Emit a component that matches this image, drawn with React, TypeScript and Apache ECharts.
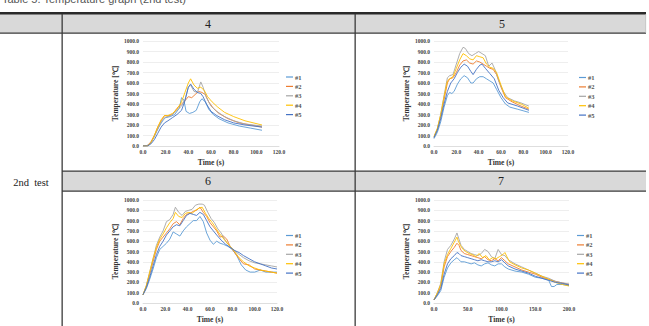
import React, { useEffect, useRef } from "react";
import * as echarts from "echarts";

// Sensor channels and their line colours
const SENSORS = ["#1", "#2", "#3", "#4", "#5"];
const SENSOR_COLORS = ["#5B9BD5", "#ED7D31", "#A5A5A5", "#FFC000", "#4472C4"];
const TEST_LABELS = ["4", "5", "6", "7"];
const ROW_LABEL = "2nd  test";
const TITLE = "Table 5. Temperature graph (2nd test)";

type Pt = [number, number];

// Test 4: [time (s), temperature (°C)]
const t4s1: Pt[] = [[0,0],[3,2],[6,20],[9,70],[12,140],[15,200],[18,250],[20,270],[24,280],[28,300],[32,360],[34,460],[36,440],[38,330],[41,310],[44,320],[47,340],[50,420],[52,450],[55,420],[58,350],[62,300],[67,260],[75,220],[85,190],[95,170],[105,150]];
const t4s2: Pt[] = [[0,0],[4,5],[7,40],[10,100],[13,180],[16,240],[19,290],[22,285],[26,300],[30,360],[34,400],[37,430],[40,470],[43,460],[46,490],[49,520],[52,510],[55,490],[58,420],[62,360],[67,310],[75,260],[85,220],[95,200],[105,180]];
const t4s3: Pt[] = [[0,0],[4,0],[7,30],[10,90],[13,160],[16,230],[19,270],[22,280],[26,300],[30,340],[34,380],[37,440],[40,560],[42,580],[45,520],[48,510],[51,610],[53,560],[56,460],[60,380],[65,330],[72,280],[80,240],[90,210],[105,190]];
const t4s4: Pt[] = [[0,0],[4,0],[7,30],[10,100],[13,180],[16,250],[19,290],[22,290],[26,310],[30,350],[34,420],[37,510],[40,600],[42,640],[45,580],[48,550],[51,560],[54,530],[57,470],[61,420],[66,370],[72,320],[80,280],[90,240],[105,200]];
const t4s5: Pt[] = [[0,0],[4,0],[7,20],[10,60],[13,120],[16,180],[19,220],[22,240],[26,270],[30,300],[34,340],[37,430],[40,560],[42,590],[45,540],[48,510],[51,500],[53,470],[56,400],[60,330],[65,290],[72,250],[80,220],[90,200],[105,180]];

// Test 5
const t5s1: Pt[] = [[0,70],[3,130],[6,230],[9,370],[12,480],[14,510],[16,500],[18,520],[21,590],[24,640],[27,670],[30,650],[33,600],[35,600],[38,640],[41,660],[44,660],[47,640],[50,620],[53,600],[56,540],[60,460],[64,400],[68,370],[75,350],[85,320]];
const t5s2: Pt[] = [[0,90],[3,160],[6,280],[9,440],[12,600],[14,640],[17,650],[20,700],[23,770],[26,810],[29,820],[32,790],[35,780],[38,810],[41,800],[44,780],[47,760],[50,740],[53,730],[56,680],[60,560],[64,460],[70,420],[78,380],[85,350]];
const t5s3: Pt[] = [[0,80],[3,160],[6,300],[9,480],[12,650],[14,670],[17,680],[20,780],[23,880],[26,940],[28,930],[31,880],[34,860],[37,880],[40,900],[43,880],[46,860],[49,760],[52,790],[55,720],[58,620],[62,520],[66,460],[72,430],[78,410],[85,380]];
const t5s4: Pt[] = [[0,90],[3,170],[6,300],[9,470],[12,620],[14,640],[17,660],[20,740],[23,820],[26,880],[29,860],[32,830],[35,820],[38,860],[41,850],[44,840],[47,780],[50,750],[53,740],[56,700],[60,580],[64,470],[70,430],[78,400],[85,360]];
const t5s5: Pt[] = [[0,80],[3,150],[6,260],[9,400],[12,520],[15,600],[18,640],[21,700],[24,750],[27,780],[30,760],[33,710],[35,680],[38,730],[41,770],[43,780],[46,740],[50,690],[54,640],[58,530],[62,460],[66,410],[75,380],[85,340]];

// Test 6
const t6s1: Pt[] = [[0,80],[3,140],[6,230],[9,330],[12,440],[15,520],[18,550],[21,580],[24,620],[27,690],[30,670],[33,650],[36,700],[39,740],[42,770],[45,800],[48,800],[51,840],[54,790],[57,680],[60,610],[63,570],[66,600],[69,580],[72,570],[76,550],[80,520],[84,460],[88,370],[92,320],[96,300],[100,300],[105,320],[110,300],[115,300],[120,300]];
const t6s2: Pt[] = [[0,80],[3,160],[6,280],[9,400],[12,520],[15,600],[18,640],[21,680],[24,720],[27,770],[30,790],[33,760],[36,820],[39,860],[42,870],[45,890],[48,900],[51,930],[54,880],[57,840],[60,780],[63,740],[66,700],[69,640],[72,650],[75,620],[78,550],[82,490],[86,430],[90,380],[95,370],[100,330],[105,320],[110,310],[115,300],[120,290]];
const t6s3: Pt[] = [[0,80],[3,170],[6,300],[9,430],[12,560],[15,640],[18,700],[21,790],[24,810],[27,860],[29,930],[32,880],[35,850],[38,890],[41,900],[44,910],[47,950],[50,960],[53,960],[55,950],[58,880],[61,820],[64,780],[67,720],[70,680],[73,620],[76,570],[80,530],[85,480],[90,440],[95,410],[100,390],[105,380],[110,370],[115,360],[120,350]];
const t6s4: Pt[] = [[0,80],[3,170],[6,300],[9,430],[12,540],[15,620],[18,670],[21,730],[24,780],[27,820],[29,880],[32,840],[35,830],[38,870],[41,880],[44,870],[47,900],[50,920],[53,930],[56,870],[59,820],[62,780],[65,730],[68,680],[71,640],[74,600],[78,550],[82,500],[86,440],[90,400],[95,360],[100,340],[105,320],[110,310],[115,300],[120,290]];
const t6s5: Pt[] = [[0,80],[3,150],[6,250],[9,360],[12,470],[15,550],[18,600],[21,660],[24,700],[27,740],[30,760],[33,750],[36,800],[39,850],[42,870],[45,860],[48,850],[51,880],[54,860],[57,800],[60,740],[63,700],[66,660],[70,610],[74,570],[78,540],[82,510],[86,490],[90,460],[95,430],[100,400],[105,380],[110,360],[115,340],[120,330]];

// Test 7
const t7s1: Pt[] = [[0,30],[5,70],[10,120],[15,250],[20,340],[25,390],[30,420],[34,440],[37,420],[40,400],[45,400],[50,390],[55,380],[60,390],[65,370],[70,360],[75,380],[80,390],[85,370],[90,360],[95,380],[100,380],[105,350],[110,330],[120,310],[130,300],[140,280],[150,250],[160,240],[170,220],[174,160],[178,160],[182,180],[190,180],[200,170]];
const t7s2: Pt[] = [[0,30],[5,90],[10,160],[15,350],[20,450],[25,500],[30,540],[34,580],[37,560],[40,510],[45,480],[50,470],[55,460],[60,450],[65,440],[70,430],[75,450],[80,420],[85,410],[90,430],[95,410],[100,440],[105,410],[110,380],[120,350],[130,320],[140,300],[150,280],[160,250],[170,230],[180,210],[190,195],[200,180]];
const t7s3: Pt[] = [[0,30],[5,100],[10,190],[15,400],[20,520],[25,560],[30,620],[34,680],[37,620],[40,560],[45,520],[50,500],[55,480],[60,470],[65,460],[70,480],[75,520],[80,500],[85,450],[90,430],[95,520],[100,470],[105,460],[110,420],[120,380],[130,350],[140,320],[150,290],[160,260],[170,240],[180,210],[190,195],[200,185]];
const t7s4: Pt[] = [[0,30],[5,100],[10,180],[15,380],[20,470],[25,530],[30,590],[34,640],[36,600],[39,560],[43,520],[47,500],[52,480],[57,470],[62,450],[67,480],[72,440],[77,460],[82,420],[87,440],[92,430],[97,450],[102,470],[105,490],[108,450],[112,400],[120,370],[130,340],[140,320],[150,290],[160,260],[170,230],[180,200],[190,180],[200,165]];
const t7s5: Pt[] = [[0,30],[5,80],[10,140],[15,280],[20,380],[25,430],[30,460],[34,490],[37,480],[40,460],[45,450],[50,440],[55,430],[60,420],[65,410],[70,420],[75,410],[80,400],[85,400],[90,410],[95,400],[100,420],[105,390],[110,360],[120,330],[130,310],[140,290],[150,260],[160,240],[170,220],[180,200],[190,190],[200,175]];

const TEST_DATA: Pt[][][] = [
  [t4s1, t4s2, t4s3, t4s4, t4s5],
  [t5s1, t5s2, t5s3, t5s4, t5s5],
  [t6s1, t6s2, t6s3, t6s4, t6s5],
  [t7s1, t7s2, t7s3, t7s4, t7s5],
];
const TIME_MAX = [120, 120, 120, 200];
const TIME_STEP = [20, 20, 20, 50];

// Panel geometry inside the table cells
const PANELS = [
  { grid: { left: 143, top: 41, width: 136, height: 105 }, legendLeft: 286, legendTop: 73.5 },
  { grid: { left: 434, top: 41, width: 134, height: 105 }, legendLeft: 579, legendTop: 74 },
  { grid: { left: 143, top: 200, width: 134, height: 103 }, legendLeft: 286, legendTop: 232 },
  { grid: { left: 434, top: 200, width: 135, height: 103 }, legendLeft: 577, legendTop: 232 },
];

const SERIF = "'Liberation Serif', 'Times New Roman', serif";
const LINE = "#3a3a3a";
const HEAD_FILL = "#d9d9d9";

function buildOption() {
  const grids: any[] = [];
  const xAxes: any[] = [];
  const yAxes: any[] = [];
  const legends: any[] = [];
  const series: any[] = [];

  PANELS.forEach((p, i) => {
    grids.push({ ...p.grid, containLabel: false });
    xAxes.push({
      type: "value",
      gridIndex: i,
      min: 0,
      max: TIME_MAX[i],
      interval: TIME_STEP[i],
      name: "Time (s)",
      nameLocation: "middle",
      nameGap: 12,
      nameTextStyle: { fontFamily: SERIF, fontWeight: "bold", fontSize: 7.5, color: "#333" },
      axisLine: { show: true, lineStyle: { color: "#d9d9d9", width: 0.8 } },
      axisTick: { show: false },
      splitLine: { show: false },
      axisLabel: {
        margin: 3,
        fontFamily: SERIF,
        fontWeight: "bold",
        fontSize: 5.5,
        color: "#444",
        formatter: (v: number) => v.toFixed(1),
      },
    });
    yAxes.push({
      type: "value",
      gridIndex: i,
      min: 0,
      max: 1000,
      interval: 100,
      name: "Temperature [℃]",
      nameLocation: "middle",
      nameGap: 21,
      nameRotate: 90,
      nameTextStyle: { fontFamily: SERIF, fontWeight: "bold", fontSize: 7.5, color: "#333" },
      axisLine: { show: false },
      axisTick: { show: false },
      splitLine: { show: true, lineStyle: { color: "#e3e3e3", width: 0.6 } },
      axisLabel: {
        margin: 4,
        fontFamily: SERIF,
        fontWeight: "bold",
        fontSize: 5.5,
        color: "#444",
        formatter: (v: number) => v.toFixed(1),
      },
    });
    legends.push({
      orient: "vertical",
      left: p.legendLeft,
      top: p.legendTop,
      data: SENSORS,
      icon: "rect",
      itemWidth: 7,
      itemHeight: 1.2,
      itemGap: 2.4,
      padding: 0,
      selectedMode: false,
      textStyle: {
        fontFamily: SERIF,
        fontWeight: "bold",
        fontSize: 6.5,
        lineHeight: 7,
        color: "#555",
        padding: [0, 0, 0, -3],
      },
    });
    TEST_DATA[i].forEach((d, k) => {
      series.push({
        type: "line",
        name: SENSORS[k],
        xAxisIndex: i,
        yAxisIndex: i,
        data: d,
        symbol: "none",
        color: SENSOR_COLORS[k],
        lineStyle: { width: 0.9, color: SENSOR_COLORS[k] },
      });
    });
  });

  const hRect = (x: number, y: number, w: number, h: number, fill: string) => ({
    type: "rect",
    shape: { x, y, width: w, height: h },
    style: { fill },
    silent: true,
  });

  const headText = (text: string, x: number, y: number, size: number) => ({
    type: "text",
    x,
    y,
    style: {
      text,
      fontFamily: SERIF,
      fontSize: size,
      fill: "#222",
      textAlign: "center",
      textVerticalAlign: "middle",
    },
    silent: true,
  });

  const graphic: any[] = [
    {
      type: "text",
      x: 2,
      y: 4,
      style: {
        text: TITLE,
        fontFamily: "'Liberation Sans', Arial, sans-serif",
        fontSize: 11,
        fill: "#555",
        textVerticalAlign: "bottom",
      },
      silent: true,
    },
    // header band, row 1
    hRect(0, 14, 646, 19, HEAD_FILL),
    // header band, row 2 (right of the merged first column)
    hRect(62, 171, 584, 20, HEAD_FILL),
    // borders
    hRect(0, 12, 646, 2.5, "#2a2a2a"),
    hRect(0, 32.5, 646, 1.2, LINE),
    hRect(62, 170.5, 584, 1.2, LINE),
    hRect(62, 190.5, 584, 1.2, LINE),
    hRect(61.5, 14, 1.3, 312, LINE),
    hRect(354.5, 14, 1.3, 312, LINE),
    hRect(645.5, 14, 0.6, 19, "#bbbbbb"),
    headText(TEST_LABELS[0], 208, 24, 12),
    headText(TEST_LABELS[1], 502, 24, 12),
    headText(TEST_LABELS[2], 208, 181, 12),
    headText(TEST_LABELS[3], 501, 181, 12),
    headText(ROW_LABEL, 31, 182, 10.5),
  ];

  return {
    animation: false,
    backgroundColor: "#ffffff",
    grid: grids,
    xAxis: xAxes,
    yAxis: yAxes,
    legend: legends,
    series,
    graphic,
  };
}

export default function App() {
  const ref = useRef<HTMLDivElement>(null);
  useEffect(() => {
    if (!ref.current) return;
    const chart = echarts.init(ref.current, undefined, { renderer: "svg" });
    chart.setOption(buildOption());
    return () => chart.dispose();
  }, []);
  return (
    <div
      ref={ref}
      style={{ position: "fixed", left: 0, top: 0, width: 649, height: 326, background: "#fff" }}
    />
  );
}
